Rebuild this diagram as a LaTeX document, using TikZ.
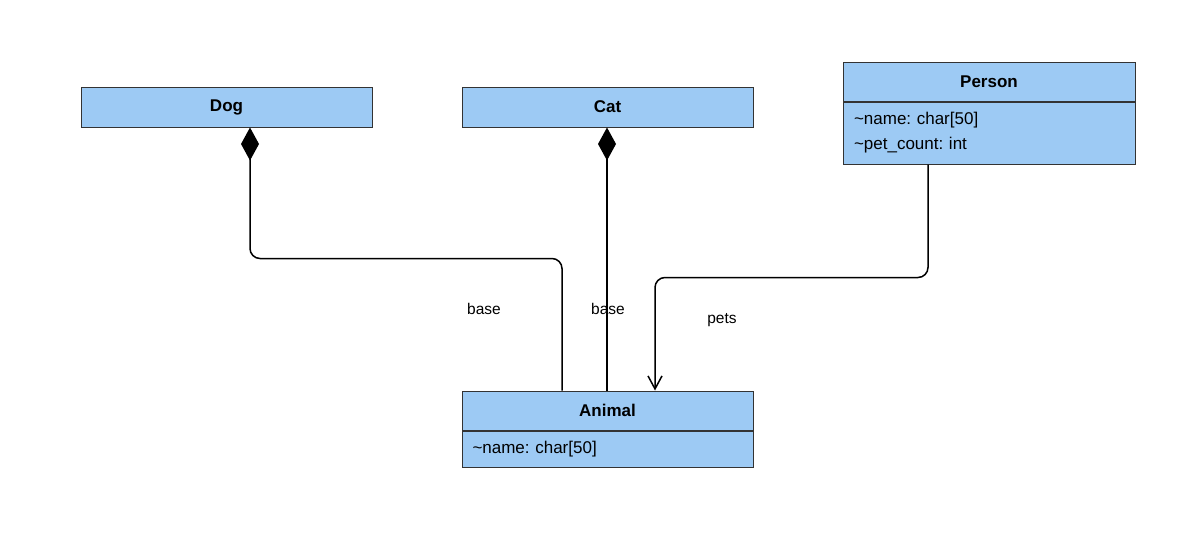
\documentclass[tikz,border=0pt]{standalone}
\usepackage{fontspec}
\setmainfont{Liberation Sans}
\usepackage{tikz}
\usetikzlibrary{arrows.meta,positioning}
\definecolor{umlblue}{RGB}{157,202,244}
\tikzstyle{classhead} = [draw=black!80,fill=umlblue,line width=1pt,minimum width=291pt,minimum height=40pt,inner sep=0pt,font=\bfseries\fontsize{17pt}{20pt}\selectfont]
\tikzstyle{classattr} = [draw=black!80,fill=umlblue,line width=1pt,minimum width=291pt,inner sep=0pt,text width=270pt,align=left,font=\fontsize{17pt}{25pt}\selectfont]
\tikzstyle{rolelabel} = [inner sep=0pt,font=\fontsize{15.5pt}{18pt}\selectfont]
\tikzstyle{link}      = [line width=1.5pt,rounded corners=10pt]
\frenchspacing

\begin{document}
\begin{tikzpicture}[x=1pt,y=-1pt]
\useasboundingbox (0,0) rectangle (1189,555);

\node[classhead] (Dog)    at (226.5,107) {Dog};
\node[classhead] (Cat)    at (607.5,107) {Cat};
\node[classhead,minimum width=292pt,minimum height=39pt] (Person) at (989,81.5) {Person};
\node[classattr,minimum width=292pt,minimum height=62pt,anchor=north] (PersonAttr) at (Person.south)
    {\textasciitilde name: char[50]\\\textasciitilde pet\_count: int};
\node[classhead,minimum height=39pt] (Animal) at (607.5,410.5) {Animal};
\node[classattr,minimum height=36pt,anchor=north] (AnimalAttr) at (Animal.south)
    {\textasciitilde name: char[50]};

\node[rolelabel] (DogRole) at (484,309) {base};
\node[rolelabel] (CatRole) at (608,309) {base};
\node[rolelabel] (PetRole) at (722,320) {pets};

\draw[link,{Diamond[length=33pt,width=18pt]}-] ([xshift=23.5]Dog.south) -- ++(0,131) -| ([xshift=-45.5]Animal.north);
\draw[link,{Diamond[length=33pt,width=18pt]}-] ([xshift=-0.5]Cat.south) -- ([xshift=-0.5]Animal.north);
\draw[link,-{Straight Barb[length=13pt,width=14pt]}] ([xshift=-61]PersonAttr.south) -- ++(0,113) -| ([xshift=47.5]Animal.north);
\end{tikzpicture}
\end{document}
